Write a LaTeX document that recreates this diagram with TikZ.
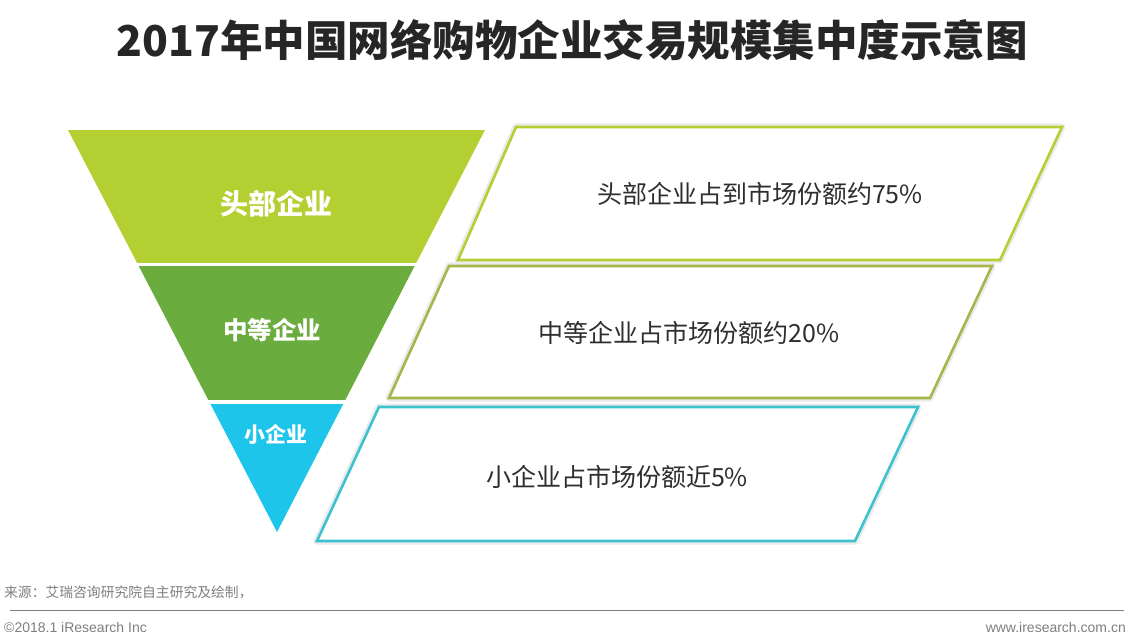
\documentclass[tikz,border=0pt]{standalone}
\usepackage{fontspec}
\setmainfont{Noto Sans CJK SC}
\newfontfamily\latinfont{Liberation Sans}
\definecolor{lime}{HTML}{B4CF32}
\definecolor{midgreen}{HTML}{6AAC3E}
\definecolor{sky}{HTML}{1DC5EA}
\definecolor{olive}{HTML}{A8B54C}
\definecolor{boxcyan}{HTML}{3CC3CF}
\definecolor{txt}{HTML}{2E2E2E}
\definecolor{title}{HTML}{262626}
\definecolor{foot}{HTML}{7F7F7F}
\tikzset{
  band label/.style={text=white, inner sep=0pt},
  box text/.style={text=txt, font=\fontsize{25}{25}\selectfont, inner sep=0pt},
  box shadow/.style={draw=black!8, line width=7pt, line join=round},
  box frame/.style={fill=white, line width=2.6pt, line join=miter},
  foot text/.style={text=foot, font=\latinfont\fontsize{14}{14}\selectfont, inner sep=0pt}
}
\begin{document}
\begin{tikzpicture}[x=1pt,y=-1pt]
\useasboundingbox (0,0) rectangle (1133,639);
\fill[white] (0,0) rectangle (1133,639);

% title
\node[text=title, font=\bfseries\fontsize{42.5}{42.5}\selectfont, inner sep=0pt] (title) at (572,40) {2017年中国网络购物企业交易规模集中度示意图};

% inverted triangle
\coordinate (tl) at (68,130);
\coordinate (tr) at (485,130);
\coordinate (apex) at (277,532);
\begin{scope}
  \clip (tl) -- (tr) -- (apex) -- cycle;
  \fill[lime] (0,130) rectangle (600,263);
  \fill[midgreen] (0,266.5) rectangle (600,400);
  \fill[sky] (0,404) rectangle (600,540);
\end{scope}
\node[band label, font=\bfseries\fontsize{28}{28}\selectfont] (b1) at (276,204) {头部企业};
\node[band label, font=\bfseries\fontsize{24.5}{24.5}\selectfont] (b2) at (272,330) {中等企业};
\node[band label, font=\bfseries\fontsize{21}{21}\selectfont] (b3) at (276,434) {小企业};

% parallelogram boxes
\coordinate (p1a) at (516,127); \coordinate (p1b) at (1062,127);
\coordinate (p1c) at (1000,260); \coordinate (p1d) at (458,260);
\coordinate (p2a) at (449,266); \coordinate (p2b) at (992,266);
\coordinate (p2c) at (930,398); \coordinate (p2d) at (389,398);
\coordinate (p3a) at (379,407); \coordinate (p3b) at (918,407);
\coordinate (p3c) at (855,541); \coordinate (p3d) at (317,541);

\draw[box shadow] (p1a) -- (p1b) -- (p1c) -- (p1d) -- cycle;
\draw[box shadow] (p2a) -- (p2b) -- (p2c) -- (p2d) -- cycle;
\draw[box shadow] (p3a) -- (p3b) -- (p3c) -- (p3d) -- cycle;
\draw[box frame, draw=lime] (p1a) -- (p1b) -- (p1c) -- (p1d) -- cycle;
\draw[box frame, draw=olive] (p2a) -- (p2b) -- (p2c) -- (p2d) -- cycle;
\draw[box frame, draw=boxcyan] (p3a) -- (p3b) -- (p3c) -- (p3d) -- cycle;

\node[box text] (t1) at (760,194) {头部企业占到市场份额约75\%};
\node[box text] (t2) at (689,333) {中等企业占市场份额约20\%};
\node[box text] (t3) at (617,477) {小企业占市场份额近5\%};

% footer
\node[foot text, anchor=west, font=\fontsize{13.8}{14}\selectfont] (src) at (4,592) {来源：艾瑞咨询研究院自主研究及绘制，};
\coordinate (l1) at (10,610);
\coordinate (l2) at (1124,610);
\draw[foot, line width=0.8pt] (l1) -- (l2);
\node[foot text, anchor=west] (copy) at (4,627) {©2018.1 iResearch Inc};
\node[foot text, anchor=east] (web) at (1126,627) {www.iresearch.com.cn};
\end{tikzpicture}
\end{document}
